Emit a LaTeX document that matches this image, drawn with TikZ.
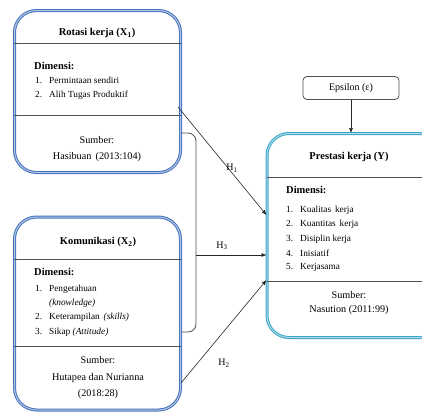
\documentclass[tikz,border=0pt]{standalone}
\usepackage{fontspec}
\setmainfont{Liberation Serif}
\usetikzlibrary{arrows.meta}
\definecolor{xblue}{RGB}{68,114,188}
\definecolor{yteal}{RGB}{58,165,200}
\definecolor{lingray}{RGB}{80,80,80}
\tikzset{
  xbox/.style={draw=xblue, double=xblue!40, double distance=1pt, line width=1pt, rounded corners=22pt},
  ybox/.style={draw=yteal, double=yteal!40, double distance=1pt, line width=1pt, rounded corners=22pt},
  ebox/.style={draw=lingray, line width=0.8pt, rounded corners=4pt, minimum width=96pt, minimum height=23pt, inner sep=0pt},
  titletxt/.style={font=\fontsize{10.5}{12}\selectfont\bfseries, inner sep=0pt},
  headtxt/.style={font=\fontsize{10.5}{12}\selectfont\bfseries, anchor=west, inner sep=0pt},
  itemtxt/.style={font=\fontsize{9.3}{11}\selectfont, anchor=west, inner sep=0pt},
  srctxt/.style={font=\fontsize{10.2}{12}\selectfont, inner sep=0pt},
  divline/.style={draw=lingray, line width=1pt},
  arr/.style={draw=black!85, line width=0.6pt, -{Latex[length=5pt,width=4pt]}},
  hlab/.style={font=\fontsize{10}{12}\selectfont, inner sep=0pt}
}
\newcommand{\num}[1]{\makebox[14pt][l]{#1}}
\begin{document}
\begin{tikzpicture}[x=1pt,y=-1pt]
  \useasboundingbox (0,0) rectangle (422,415);
  \clip (0,0) rectangle (422,415);
  % kotak variabel
  \node[xbox, minimum width=166pt, minimum height=162pt] (x1) at (97.5,91.5) {};
  \node[xbox, minimum width=166pt, minimum height=193pt] (x2) at (97.5,313.5) {};
  \node[ybox, minimum width=175pt, minimum height=204pt] (y) at (354.5,235.5) {};
  \node[ebox] (eps) at (351,88) {\fontsize{10}{12}\selectfont Epsilon (ε)};
  % Rotasi kerja
  \node[titletxt] (x1t) at (97,33) {Rotasi kerja (X\textsubscript{1})};
  \draw[divline] (x1.west |- 0,43) -- (x1.east |- 0,43);
  \node[headtxt] (x1d) at (34,66) {Dimensi:};
  \node[itemtxt] at (35,80) {\num{1.}Permintaan sendiri};
  \node[itemtxt] at (35,95) {\num{2.}Alih Tugas Produktif};
  \draw[divline] (x1.west |- 0,115) -- (x1.east |- 0,115);
  \node[srctxt] at (97,140) {Sumber:};
  \node[srctxt] at (97,157) {Hasibuan\, (2013:104)};
  % Komunikasi
  \node[titletxt] (x2t) at (98,242) {Komunikasi (X\textsubscript{2})};
  \draw[divline] (x2.west |- 0,259) -- (x2.east |- 0,259);
  \node[headtxt] (x2d) at (34,272) {Dimensi:};
  \node[itemtxt] at (35,289) {\num{1.}Pengetahuan};
  \node[itemtxt] at (35,303) {\num{}\textit{(knowledge)}};
  \node[itemtxt] at (35,317) {\num{2.}Keterampilan\, \textit{(skills)}};
  \node[itemtxt] at (35,332) {\num{3.}Sikap \textit{(Attitude)}};
  \draw[divline] (x2.west |- 0,346) -- (x2.east |- 0,346);
  \node[srctxt] at (98,360) {Sumber:};
  \node[srctxt] at (98,378) {Hutapea dan Nurianna};
  \node[srctxt] at (98,394) {(2018:28)};
  % Prestasi kerja
  \node[titletxt] (yt) at (349,157) {Prestasi kerja (Y)};
  \draw[divline] (y.west |- 0,177) -- (y.east |- 0,177);
  \node[headtxt] (yd) at (286,190) {Dimensi:};
  \node[itemtxt] at (286,210) {\num{1.}Kualitas\, kerja};
  \node[itemtxt] at (286,224) {\num{2.}Kuantitas\, kerja};
  \node[itemtxt] at (286,239) {\num{3.}Disiplin kerja};
  \node[itemtxt] at (286,253) {\num{4.}Inisiatif};
  \node[itemtxt] at (286,267) {\num{5.}Kerjasama};
  \draw[divline] (y.west |- 0,281) -- (y.east |- 0,281);
  \node[srctxt] at (349,295) {Sumber:};
  \node[srctxt] at (349,310) {Nasution (2011:99)};
  % hubungan
  \coordinate (h1s) at (178,107);
  \coordinate (h2s) at (181,383);
  \coordinate (brk) at (196,255);
  \draw[draw=lingray, line width=0.8pt, rounded corners=8pt] (x1.east |- 0,133) -- (196,133) -- (196,332) -- (x2.east |- 0,332);
  \draw[arr] (h1s) -- (y.west |- 0,215);
  \draw[arr] (brk) -- (y.west |- brk);
  \draw[arr] (h2s) -- (y.west |- 0,280);
  \draw[arr] (eps.south) -- (eps.south |- y.north);
  \node[hlab] at (232,168) {H\textsubscript{1}};
  \node[hlab] at (222,246) {H\textsubscript{3}};
  \node[hlab] at (224,363) {H\textsubscript{2}};
\end{tikzpicture}
\end{document}
